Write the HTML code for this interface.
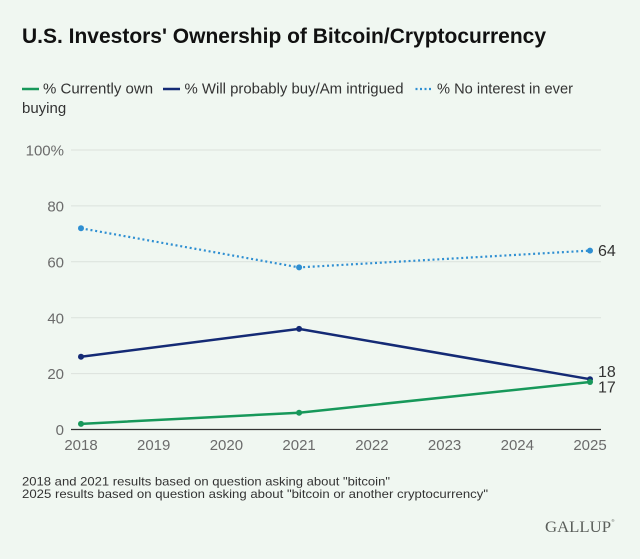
<!DOCTYPE html>
<html><head><meta charset="utf-8"><style>
html,body{margin:0;padding:0;background:#f0f7f1;}
svg{display:block;}
text{font-family:"Liberation Sans",sans-serif;}
</style></head><body>
<svg width="640" height="559" viewBox="0 0 640 559" xmlns="http://www.w3.org/2000/svg">
<rect width="640" height="559" fill="#f0f7f1"/>
<text x="22" y="43" font-size="21" font-weight="bold" fill="#111" textLength="524" lengthAdjust="spacingAndGlyphs">U.S. Investors' Ownership of Bitcoin/Cryptocurrency</text>

<!-- legend -->
<line x1="22" y1="89" x2="39" y2="89" stroke="#17985a" stroke-width="2.5"/>
<text x="43" y="93.5" font-size="15" fill="#333">% Currently own</text>
<line x1="163" y1="89" x2="180" y2="89" stroke="#142a75" stroke-width="2.5"/>
<text x="184.5" y="93.5" font-size="15" fill="#333" textLength="219" lengthAdjust="spacingAndGlyphs">% Will probably buy/Am intrigued</text>
<line x1="415.5" y1="89" x2="432" y2="89" stroke="#2f8fd2" stroke-width="2.2" stroke-dasharray="2 2.5"/>
<text x="437" y="93.5" font-size="15" fill="#333" textLength="136" lengthAdjust="spacingAndGlyphs">% No interest in ever</text>
<text x="22" y="113" font-size="15" fill="#333">buying</text>

<!-- gridlines -->
<g stroke="#dbe2dc" stroke-width="1">
<line x1="71" y1="150" x2="601" y2="150"/>
<line x1="71" y1="205.9" x2="601" y2="205.9"/>
<line x1="71" y1="261.8" x2="601" y2="261.8"/>
<line x1="71" y1="317.8" x2="601" y2="317.8"/>
<line x1="71" y1="373.6" x2="601" y2="373.6"/>
</g>
<line x1="71" y1="429.5" x2="601" y2="429.5" stroke="#333" stroke-width="1.2"/>

<!-- y labels -->
<g font-size="15" fill="#6b6b6b" text-anchor="end">
<text x="64" y="155.5">100%</text>
<text x="64" y="211.4">80</text>
<text x="64" y="267.3">60</text>
<text x="64" y="323.3">40</text>
<text x="64" y="379.1">20</text>
<text x="64" y="435">0</text>
</g>

<!-- x labels -->
<g font-size="15" fill="#6b6b6b" text-anchor="middle">
<text x="81" y="450">2018</text>
<text x="153.7" y="450">2019</text>
<text x="226.4" y="450">2020</text>
<text x="299.1" y="450">2021</text>
<text x="371.9" y="450">2022</text>
<text x="444.6" y="450">2023</text>
<text x="517.3" y="450">2024</text>
<text x="590" y="450">2025</text>
</g>

<!-- series: no interest -->
<polyline points="81,228.3 299.1,267.4 590,250.6" fill="none" stroke="#2f8fd2" stroke-width="2.2" stroke-dasharray="2 2.8"/>
<g fill="#2f8fd2"><circle cx="81" cy="228.3" r="3"/><circle cx="299.1" cy="267.4" r="3"/><circle cx="590" cy="250.6" r="3"/></g>

<!-- series: will probably buy -->
<polyline points="81,356.8 299.1,328.9 590,379.2" fill="none" stroke="#142a75" stroke-width="2.5"/>
<g fill="#142a75"><circle cx="81" cy="356.8" r="3"/><circle cx="299.1" cy="328.9" r="3"/><circle cx="590" cy="379.2" r="3"/></g>

<!-- series: currently own -->
<polyline points="81,423.9 299.1,412.7 590,382" fill="none" stroke="#17985a" stroke-width="2.5"/>
<g fill="#17985a"><circle cx="81" cy="423.9" r="3"/><circle cx="299.1" cy="412.7" r="3"/><circle cx="590" cy="382" r="3"/></g>

<!-- data labels -->
<g font-size="16" fill="#333">
<text x="598" y="256">64</text>
<text x="598" y="377">18</text>
<text x="598" y="392.5">17</text>
</g>

<!-- footnotes -->
<g font-size="12" fill="#333">
<text x="22" y="485.5" textLength="368" lengthAdjust="spacingAndGlyphs">2018 and 2021 results based on question asking about "bitcoin"</text>
<text x="22" y="498" textLength="466" lengthAdjust="spacingAndGlyphs">2025 results based on question asking about "bitcoin or another cryptocurrency"</text>
</g>

<text x="545" y="532" style="font-family:'Liberation Serif',serif;font-size:16px" fill="#5a5e5a" textLength="66" lengthAdjust="spacingAndGlyphs">GALLUP</text>
<text x="611.5" y="522" style="font-size:4px" fill="#5a5e5a">®</text>
</svg>
</body></html>
